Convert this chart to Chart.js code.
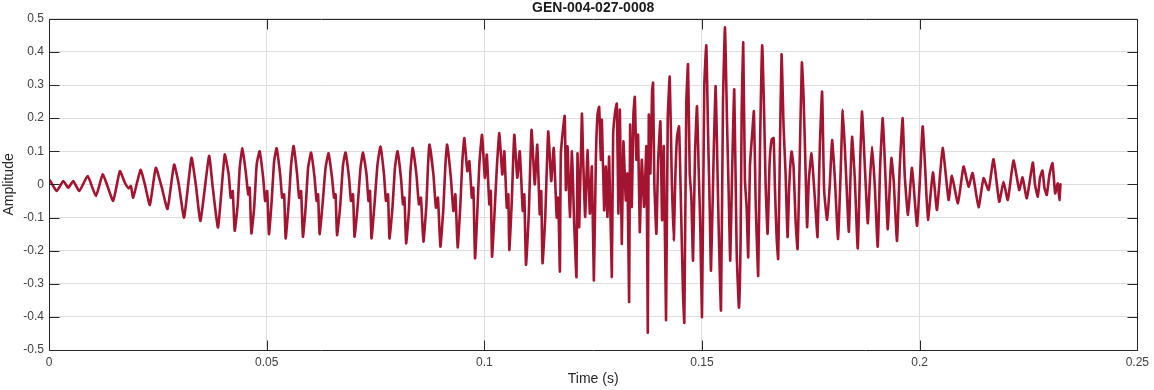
<!DOCTYPE html>
<html>
<head>
<meta charset="utf-8">
<title>GEN-004-027-0008</title>
<script src="https://cdn.jsdelivr.net/npm/chart.js@4.4.1/dist/chart.umd.min.js"></script>
<style>
  html, body { margin: 0; padding: 0; background: #fff; }
  #wrap { width: 1154px; height: 390px; }
</style>
</head>
<body>
<div id="wrap"><canvas id="waveChart" width="1154" height="390"></canvas></div>
<script>
// waveform, [time (s), amplitude]
const onset = [
  [0, 0.01], [0.00023, 0.012], [0.00177, -0.02], [0.00328, 0.01], [0.00443, -0.01],
  [0.00557, 0.01], [0.00695, -0.02], [0.00888, 0.025], [0.01078, -0.035], [0.01232, 0.03],
  [0.0133, 0.0], [0.01475, -0.05], [0.01628, 0.04], [0.01743, 0.005], [0.01835, -0.012],
  [0.01881, -0.005], [0.01934, -0.04], [0.02103, 0.044], [0.02202, 0.0], [0.02317, -0.062],
  [0.02454, 0.05], [0.02592, -0.01], [0.02723, -0.074], [0.02874, 0.06], [0.02982, 0.0],
  [0.03103, -0.1], [0.03273, 0.08], [0.03372, 0.0], [0.03479, -0.11], [0.03677, 0.086],
  [0.03762, -0.01], [0.03883, -0.13]
];

const steady = [
  [0.04037, 0.09], [0.04128, 0.03], [0.04174, -0.04], [0.0422, -0.02], [0.04266, -0.14],
  [0.04335, -0.06], [0.04381, 0.05], [0.04443, 0.109], [0.04518, 0.04], [0.04576, -0.03],
  [0.0461, -0.01], [0.04649, -0.148], [0.04713, -0.07], [0.04771, 0.06], [0.04839, 0.1],
  [0.0492, 0.02], [0.04966, -0.05], [0.05012, -0.02], [0.05053, -0.15], [0.05115, -0.05],
  [0.05172, 0.07], [0.05229, 0.109], [0.0531, 0.03], [0.05356, -0.04], [0.05401, -0.03],
  [0.05436, -0.163], [0.05505, -0.06], [0.05562, 0.06], [0.05619, 0.116], [0.057, 0.03],
  [0.05745, -0.04], [0.05791, -0.02], [0.05833, -0.158], [0.05895, -0.07], [0.05952, 0.05],
  [0.06021, 0.096], [0.06101, 0.02], [0.06147, -0.05], [0.06181, -0.03], [0.06216, -0.15],
  [0.06284, -0.06], [0.06353, 0.05], [0.06422, 0.094], [0.06502, 0.02], [0.06548, -0.04],
  [0.06583, -0.03], [0.06617, -0.153], [0.06686, -0.07], [0.06755, 0.06], [0.06812, 0.096],
  [0.06892, 0.02], [0.06938, -0.05], [0.06984, -0.03], [0.07018, -0.158], [0.07087, -0.07],
  [0.07156, 0.05], [0.07213, 0.096], [0.07294, 0.03], [0.0734, -0.05], [0.07374, -0.02],
  [0.07408, -0.163], [0.07477, -0.06], [0.07546, 0.06], [0.07615, 0.114], [0.07695, 0.03],
  [0.07741, -0.05], [0.07787, -0.03], [0.07821, -0.163], [0.0789, -0.07], [0.07947, 0.05],
  [0.08005, 0.1]
];

const growth = [
  [0.08085, 0.02], [0.08131, -0.06], [0.08165, -0.04], [0.08204, -0.178], [0.08268, -0.08],
  [0.08303, 0.04], [0.08356, 0.11], [0.0844, 0.03], [0.08498, -0.06], [0.08544, -0.04],
  [0.08601, -0.173], [0.0867, -0.06], [0.08704, 0.05], [0.08739, 0.12], [0.0883, 0.03],
  [0.08888, -0.07], [0.08934, -0.04], [0.08991, -0.188], [0.0906, -0.07], [0.09106, 0.06],
  [0.09145, 0.12], [0.09232, 0.02], [0.09289, -0.08], [0.09335, -0.03], [0.09388, -0.19],
  [0.0945, -0.06], [0.09495, 0.07], [0.09541, 0.14], [0.0961, 0.04], [0.09656, 0.07],
  [0.09713, -0.04], [0.09748, -0.01], [0.09787, -0.223], [0.0984, -0.08], [0.09885, 0.06],
  [0.09947, 0.15], [0.10012, 0.02], [0.10057, 0.09], [0.10115, -0.06], [0.10149, -0.02],
  [0.10177, -0.218], [0.10229, -0.1], [0.10287, 0.05], [0.10344, 0.155], [0.10413, 0.03],
  [0.10459, 0.1], [0.10516, -0.07], [0.10551, -0.03], [0.10574, -0.198], [0.10631, -0.05],
  [0.10688, 0.15], [0.10757, 0.02], [0.10814, 0.1], [0.10883, -0.08], [0.10918, -0.03],
  [0.10957, -0.243], [0.11021, -0.09], [0.11085, 0.165], [0.11158, 0.0], [0.11216, 0.12],
  [0.11273, -0.09], [0.11307, -0.02], [0.11337, -0.238], [0.11399, -0.1], [0.11468, 0.16],
  [0.11537, 0.01], [0.11594, 0.11], [0.11663, -0.1], [0.11697, -0.04], [0.11736, -0.263],
  [0.11759, 0.094], [0.11846, 0.207]
];

const burst = [
  [0.11874, -0.017], [0.11911, 0.115], [0.11966, -0.098], [0.12012, 0.1], [0.12064, -0.118],
  [0.12117, -0.28], [0.1214, 0.094], [0.12179, -0.129], [0.12241, 0.213], [0.12271, 0.074],
  [0.12317, -0.098], [0.12369, 0.104], [0.12424, -0.088], [0.1247, 0.054], [0.12516, -0.29],
  [0.12562, 0.074], [0.12599, 0.21], [0.12638, 0.234], [0.12677, 0.074], [0.127, 0.195],
  [0.12752, -0.078], [0.12791, 0.054], [0.12828, -0.098], [0.12867, 0.084], [0.12929, -0.28],
  [0.12959, 0.15], [0.13005, 0.22], [0.13044, 0.244], [0.1308, -0.088], [0.13113, 0.226],
  [0.13158, -0.18], [0.13195, 0.13], [0.1325, -0.048], [0.13287, 0.033], [0.13326, -0.355],
  [0.13349, 0.18], [0.13388, -0.068], [0.13424, 0.21], [0.13457, 0.264], [0.13493, 0.074],
  [0.13532, 0.15], [0.13571, -0.144], [0.13617, 0.074], [0.1367, -0.068], [0.13723, 0.115],
  [0.13755, -0.448], [0.13778, 0.21]
];

const peak = [
  [0.13814, 0.033], [0.13853, 0.28], [0.13876, 0.307], [0.13906, 0.003], [0.13952, -0.149],
  [0.13991, 0.064], [0.14044, 0.19], [0.14083, -0.108], [0.14122, 0.115], [0.14174, -0.41],
  [0.14213, 0.195], [0.14259, 0.325], [0.14305, 0.023], [0.14351, -0.17], [0.14388, 0.023],
  [0.14427, 0.145], [0.14473, 0.175], [0.14518, -0.068], [0.14564, -0.33], [0.14594, -0.417],
  [0.1464, 0.246], [0.14679, 0.363], [0.14718, 0.033], [0.14755, -0.037], [0.14794, -0.23],
  [0.1484, 0.094], [0.14885, 0.236], [0.14924, 0.044], [0.14961, -0.129], [0.15, -0.4],
  [0.15053, 0.297], [0.15099, 0.42], [0.15138, 0.165], [0.15177, -0.068], [0.15207, -0.26],
  [0.15269, 0.094], [0.15314, 0.297], [0.15351, 0.074], [0.15383, -0.129], [0.15436, -0.38],
  [0.15482, 0.246], [0.15528, 0.474], [0.15574, 0.195], [0.15613, -0.027], [0.15649, -0.23],
  [0.15688, 0.013], [0.15741, 0.287], [0.15796, -0.2], [0.15849, -0.372], [0.15888, -0.159],
  [0.15911, 0.216], [0.15947, 0.429], [0.15986, 0.013], [0.16025, -0.068], [0.16062, -0.22],
  [0.16101, 0.054], [0.16154, 0.155], [0.16193, 0.221], [0.16232, -0.048], [0.16255, -0.149],
  [0.16291, -0.276], [0.16337, 0.145], [0.16383, 0.42], [0.16429, 0.206], [0.16461, 0.003],
  [0.16507, -0.149], [0.16553, 0.064], [0.16599, 0.135], [0.16645, 0.14], [0.16675, -0.007],
  [0.16714, -0.159], [0.1675, -0.225], [0.16789, 0.094], [0.16828, 0.393], [0.16874, 0.175],
  [0.1692, 0.033], [0.16966, -0.159], [0.17003, -0.007], [0.17058, 0.099], [0.17103, 0.054],
  [0.17149, -0.108], [0.17195, -0.195], [0.17248, 0.094], [0.17294, 0.368], [0.17333, 0.266],
  [0.17379, 0.044], [0.17415, -0.129], [0.17454, 0.013], [0.17516, 0.094], [0.17569, 0.003],
  [0.17615, -0.088], [0.17654, -0.159], [0.17707, 0.115], [0.17759, 0.28], [0.17805, -0.017]
];

const decay = [
  [0.17874, -0.107], [0.17936, 0.0], [0.17989, 0.134], [0.18051, 0.02], [0.18126, -0.165],
  [0.18188, 0.05], [0.18234, 0.225], [0.18303, 0.05], [0.18372, -0.143], [0.18406, 0.0],
  [0.18447, 0.144], [0.18509, 0.02], [0.18578, -0.193], [0.18636, 0.08], [0.18677, 0.22],
  [0.18739, 0.06], [0.18808, -0.117], [0.18853, 0.0], [0.18906, 0.114], [0.18968, 0.0],
  [0.19037, -0.188], [0.19094, 0.06], [0.19152, 0.2], [0.19209, 0.04], [0.19266, -0.135],
  [0.19312, -0.01], [0.19351, 0.08], [0.19404, 0.01], [0.1948, -0.171], [0.19542, 0.05],
  [0.1961, 0.2], [0.19656, 0.03], [0.19732, -0.092], [0.19824, 0.05], [0.19938, -0.125],
  [0.2, 0.0], [0.20069, 0.175], [0.20126, 0.05], [0.20191, -0.107]
];

const tail = [
  [0.20305, 0.036], [0.20397, -0.077], [0.20528, 0.11], [0.20665, -0.047], [0.20741, 0.026],
  [0.20879, -0.057], [0.21009, 0.054], [0.21124, -0.007], [0.21216, 0.034], [0.21353, -0.069],
  [0.21468, 0.019], [0.21583, -0.017], [0.21697, 0.076], [0.21828, -0.052], [0.21927, 0.008],
  [0.22025, -0.047], [0.22156, 0.072], [0.22287, -0.017], [0.22363, 0.021], [0.22461, -0.042],
  [0.22599, 0.066], [0.22649, 0.0], [0.22714, -0.037], [0.22764, 0.02], [0.22821, 0.042],
  [0.22867, -0.01], [0.2292, -0.032], [0.22982, 0.03], [0.23051, 0.064], [0.23113, -0.027],
  [0.23172, 0.003], [0.23211, -0.047], [0.23234, 0.0]
];

const xTickLabels = ['0', '0.05', '0.1', '0.15', '0.2', '0.25'];
const yTickLabels = ['-0.5', '-0.4', '-0.3', '-0.2', '-0.1', '0', '0.1', '0.2', '0.3', '0.4', '0.5'];

const lineColor = '#a2142f';
const textColor = '#404040';
const fontFamily = '"Liberation Sans", Arial, Helvetica, sans-serif';

const points = [].concat(onset, steady, growth, burst, peak, decay, tail)
  .map(p => ({x: p[0], y: p[1]}));

// MATLAB style box with inward ticks on all four sides
const boxTicks = {
  id: 'boxTicks',
  afterDatasetsDraw(chart) {
    const {ctx, chartArea, scales} = chart;
    const left = Math.round(chartArea.left) + 0.5;
    const right = Math.round(chartArea.right) + 0.5;
    const top = Math.round(chartArea.top) + 0.5;
    const bottom = Math.round(chartArea.bottom) + 0.5;
    const len = 10;
    ctx.save();
    ctx.strokeStyle = '#262626';
    ctx.lineWidth = 1;
    ctx.beginPath();
    scales.x.ticks.forEach(t => {
      const px = Math.round(scales.x.getPixelForValue(t.value)) + 0.5;
      ctx.moveTo(px, top); ctx.lineTo(px, top + len);
      ctx.moveTo(px, bottom); ctx.lineTo(px, bottom - len);
    });
    scales.y.ticks.forEach(t => {
      const py = Math.round(scales.y.getPixelForValue(t.value)) + 0.5;
      ctx.moveTo(left, py); ctx.lineTo(left + len, py);
      ctx.moveTo(right, py); ctx.lineTo(right - len, py);
    });
    ctx.rect(left, top, right - left, bottom - top);
    ctx.stroke();
    ctx.restore();
  }
};

const config = {
  type: 'line',
  data: {
    datasets: [{
      label: 'Amplitude',
      data: points,
      borderColor: lineColor,
      borderWidth: 2.6,
      borderJoinStyle: 'round',
      borderCapStyle: 'round',
      pointRadius: 0,
      tension: 0.15,
      fill: false
    }]
  },
  options: {
    responsive: false,
    animation: false,
    parsing: false,
    layout: { padding: { right: 15 } },
    plugins: {
      legend: { display: false },
      tooltip: { enabled: false },
      title: {
        display: true,
        text: 'GEN-004-027-0008',
        fullSize: false,
        color: '#1a1a1a',
        font: { family: fontFamily, size: 14, weight: 'bold', lineHeight: 1.2 },
        padding: { top: 0, bottom: 2 }
      }
    },
    scales: {
      x: {
        type: 'linear',
        min: 0,
        max: 0.25,
        afterFit(scale) { scale.height = 40; },
        ticks: {
          stepSize: 0.05,
          autoSkip: false,
          maxRotation: 0,
          padding: 5,
          color: textColor,
          font: { family: fontFamily, size: 12 },
          callback: (v, i) => xTickLabels[i]
        },
        grid: { color: '#dedede', drawTicks: false },
        border: { display: false },
        title: {
          display: true,
          text: 'Time (s)',
          color: '#262626',
          font: { family: fontFamily, size: 14 },
          padding: { top: 0, bottom: 2 }
        }
      },
      y: {
        min: -0.5,
        max: 0.5,
        afterFit(scale) { scale.width = 49; },
        ticks: {
          stepSize: 0.1,
          padding: 5,
          color: textColor,
          font: { family: fontFamily, size: 12 },
          callback: (v, i) => yTickLabels[i]
        },
        grid: { color: '#dedede', drawTicks: false },
        border: { display: false },
        title: {
          display: true,
          text: 'Amplitude',
          color: '#262626',
          font: { family: fontFamily, size: 14 },
          padding: { top: 1, bottom: 0 }
        }
      }
    }
  },
  plugins: [boxTicks]
};

const waveChart = new Chart(document.getElementById('waveChart').getContext('2d'), config);
</script>
</body>
</html>
